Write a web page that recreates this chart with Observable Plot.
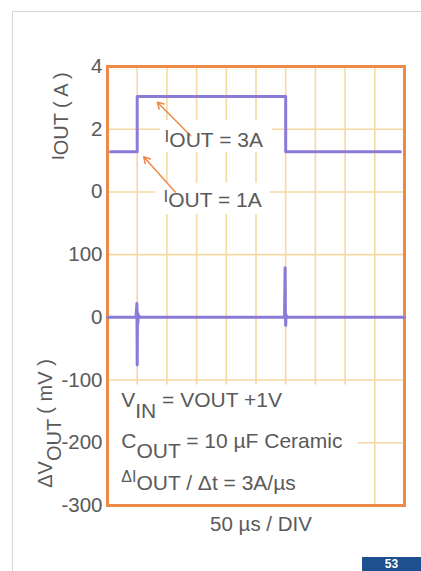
<!DOCTYPE html>
<html><head><meta charset="utf-8">
<script src="https://cdn.jsdelivr.net/npm/d3@7"></script>
<script src="https://cdn.jsdelivr.net/npm/@observablehq/plot@0.6"></script>
<style>
body{margin:0;background:#fff;width:421px;height:571px;overflow:hidden;position:relative;font-family:"Liberation Sans",Arial,sans-serif}
#page{position:absolute;left:12px;top:11px;right:-5px;bottom:-5px;border-left:1.5px solid #d3d6de;border-top:1.5px solid #d3d6de}
#chart{position:absolute;left:0;top:0}
#pg{position:absolute;left:362px;top:557px;width:59px;height:14px;background:#1e4f8e;color:#fff;font-weight:bold;font-size:12px;text-align:center;line-height:14px;overflow:hidden}
</style></head><body>
<div id="page"></div><div id="chart"></div><div id="pg">53</div>
<script>
// grid divisions: 50 µs / DIV, 10 divisions horizontally
const gridTimes = [50, 100, 150, 200, 250, 300, 350, 400, 450];
// vertical divisions (0 = -300 mV ... 7 = 4 A)
const yDivs = [0, 1, 2, 3, 4, 5, 6, 7];
const yTickLabels = ["-300", "-200", "-100", "0", "100", "0", "2", "4"];

// IOUT trace (A) vs time (µs)
const iTime = [5, 50, 50, 300, 300, 493];
const iAmps = [1.28, 1.28, 3.04, 3.04, 1.28, 1.28];

// ΔVOUT trace (mV) vs time (µs)
const vTime = [0, 48, 49.5, 50, 50.5, 51, 52, 54, 298, 299, 299.5, 300, 300.5, 302, 500];
const vMilli = [0, 0, 22, -76, 8, -10, 4, 0, 0, 79, 5, -13, 4, 0, 0];

// annotation arrows (time µs, current A)
const arrowFrom = [{t: 140, a: 1.79}, {t: 114, a: 0.0}];
const arrowTo = [{t: 84, a: 2.86}, {t: 61, a: 1.12}];

const iToDiv = a => 5 + a / 2;
const vToDiv = v => 3 + v / 100;

const iData = iTime.map((t, k) => ({t, y: iToDiv(iAmps[k])}));
const vData = vTime.map((t, k) => ({t, y: vToDiv(vMilli[k])}));
const arrows = arrowFrom.map((f, k) => ({x1: f.t, y1: iToDiv(f.a), x2: arrowTo[k].t, y2: iToDiv(arrowTo[k].a)}));

// white backgrounds behind annotation text (time µs, divisions)
const textBoxes = [
  {x1: 89, x2: 278, y1: 5.63, y2: 6.14},
  {x1: 81, x2: 274, y1: 4.64, y2: 5.14},
  {x1: 0, x2: 421, y1: 0, y2: 1.92}
];

const orange = "#ee8a48";
const gridCol = "#f6d9a2";
const purple = "#8a7bd9";
const textCol = "#5a5a5a";

const plot = Plot.plot({
  width: 421, height: 571,
  marginLeft: 107, marginRight: 17, marginTop: 66, marginBottom: 66,
  style: {background: "transparent", fontFamily: "'Liberation Sans', Arial, sans-serif", color: textCol},
  x: {domain: [0, 500], axis: null},
  y: {domain: [0, 7], axis: null},
  marks: [
    Plot.ruleX(gridTimes, {stroke: gridCol, strokeWidth: 1.6}),
    Plot.ruleY([1, 2, 3, 4, 5, 6], {stroke: gridCol, strokeWidth: 1.6}),
    Plot.rect(textBoxes, {x1: "x1", x2: "x2", y1: "y1", y2: "y2", fill: "white"}),
    Plot.frame({stroke: orange, strokeWidth: 3}),
    Plot.line(iData, {x: "t", y: "y", stroke: purple, strokeWidth: 3}),
    Plot.line(vData, {x: "t", y: "y", stroke: purple, strokeWidth: 3, curve: "linear"}),
    Plot.arrow(arrows, {x1: "x1", y1: "y1", x2: "x2", y2: "y2", stroke: orange, strokeWidth: 1.5, headLength: 7}),
    Plot.axisY(yDivs, {tickSize: 0, tickPadding: 5, fontSize: 20.5, tickFormat: d => yTickLabels[d], anchor: "left", label: null}),
    Plot.text(["50 µs / DIV"], {frameAnchor: "bottom", dy: 25, dx: 5, fontSize: 20.5, fill: textCol})
  ]
});
document.getElementById("chart").appendChild(plot);

const sx = plot.scale("x"), sy = plot.scale("y");
const svg = d3.select(plot);
const g = svg.append("g").attr("fill", textCol).attr("font-size", 21)
  .attr("font-family", "'Liberation Sans', Arial, sans-serif");

function rich(x, y, parts, rotate, size) {
  const base = size || 21;
  const t = g.append("text").attr("x", 0).attr("y", 0)
    .attr("transform", `translate(${x},${y})` + (rotate ? " rotate(-90)" : ""))
    .attr("text-anchor", rotate ? "middle" : "start");
  let shift = 0;
  for (const p of parts) {
    const s = p.s || 0;
    t.append("tspan").attr("dy", s - shift).attr("font-size", p.f || base).text(p.t);
    shift = s;
  }
  return t;
}

// annotations
rich(sx.apply(97), sy.apply(5.71), [{t: "I", s: -5, f: 17}, {t: "OUT = 3A"}]);
rich(sx.apply(95), sy.apply(4.75), [{t: "I", s: -5, f: 17}, {t: "OUT = 1A"}]);

// conditions block
rich(sx.apply(24), sy.apply(1.57), [{t: "V"}, {t: "IN", s: 11}, {t: " = VOUT +1V"}]);
rich(sx.apply(24), sy.apply(0.91), [{t: "C"}, {t: "OUT", s: 10}, {t: " = 10 µF Ceramic"}]);
rich(sx.apply(24), sy.apply(0.24), [{t: "ΔI", s: -8, f: 16}, {t: "OUT / Δt = 3A/µs"}]);

// axis titles
rich(68, sy.apply(6.2), [{t: "I", s: -4, f: 17}, {t: "OUT ( A )"}], true, 20);
rich(52, sy.apply(1.3), [{t: "ΔV"}, {t: "OUT", s: 9}, {t: " ( mV )"}], true, 20);
</script>
</body></html>
